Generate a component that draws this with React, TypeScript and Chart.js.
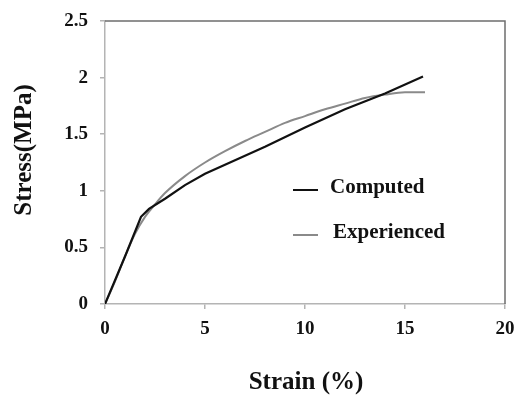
import React, { useEffect, useRef } from "react";
import { Chart, registerables } from "chart.js";

Chart.register(...registerables);

const computedStrain = [0, 1, 1.8, 2.2, 3, 4, 5, 6, 8, 10, 12, 14, 15.9];
const computedStress = [0, 0.42, 0.77, 0.84, 0.93, 1.05, 1.15, 1.23, 1.39, 1.56, 1.72, 1.86, 2.01];

const experiencedStrain = [0, 0.5, 1, 1.5, 2, 2.5, 3, 4, 5, 6, 7, 8, 9, 10, 11, 12, 13, 14, 15, 16];
const experiencedStress = [0, 0.2, 0.42, 0.62, 0.77, 0.88, 0.98, 1.13, 1.25, 1.35, 1.44, 1.52, 1.6, 1.66, 1.72, 1.77, 1.82, 1.85, 1.87, 1.87];

const xTicks = [0, 5, 10, 15, 20];
const yTicks = [0, 0.5, 1, 1.5, 2, 2.5];
const yTickLabels = ["0", "0.5", "1", "1.5", "2", "2.5"];

const seriesLabels = ["Computed", "Experienced"];
const xTitle = "Strain (%)";
const yTitle = "Stress(MPa)";

const FONT = "'Liberation Serif', 'Times New Roman', serif";

const overlayPlugin = {
  id: "overlay",
  afterDraw(chart: any) {
    const ctx = chart.ctx as CanvasRenderingContext2D;
    const { left, right, top, bottom } = chart.chartArea;
    ctx.save();
    ctx.strokeStyle = "#6e6e6e";
    ctx.lineWidth = 1.5;
    ctx.beginPath();
    ctx.moveTo(left, top);
    ctx.lineTo(right, top);
    ctx.lineTo(right, bottom);
    ctx.stroke();

    ctx.fillStyle = "#111";
    ctx.font = `bold 25px ${FONT}`;
    ctx.textAlign = "center";
    ctx.textBaseline = "middle";
    ctx.fillText(xTitle, 306, 383);
    ctx.save();
    ctx.translate(25, 150);
    ctx.rotate(-Math.PI / 2);
    ctx.fillText(yTitle, 0, 0);
    ctx.restore();

    const items = chart.data.datasets.map((d: any, i: number) => ({
      label: d.label,
      color: d.borderColor,
      y: i === 0 ? 188 : 233,
      tx: i === 0 ? 330 : 333,
    }));
    ctx.font = `bold 21px ${FONT}`;
    ctx.textAlign = "left";
    items.forEach((it: any) => {
      ctx.strokeStyle = it.color;
      ctx.lineWidth = 2;
      ctx.beginPath();
      ctx.moveTo(293, it.y + 2);
      ctx.lineTo(318, it.y + 2);
      ctx.stroke();
      ctx.fillStyle = "#111";
      ctx.fillText(it.label, it.tx, it.y);
    });
    ctx.restore();
  },
};

export default function App() {
  const ref = useRef<HTMLCanvasElement>(null);
  useEffect(() => {
    if (!ref.current) return;
    const chart = new Chart(ref.current, {
      type: "line",
      data: {
        datasets: [
          {
            label: seriesLabels[0],
            data: computedStrain.map((x, i) => ({ x, y: computedStress[i] })),
            borderColor: "#111111",
            borderWidth: 2.2,
            pointRadius: 0,
            tension: 0,
            fill: false,
          },
          {
            label: seriesLabels[1],
            data: experiencedStrain.map((x, i) => ({ x, y: experiencedStress[i] })),
            borderColor: "#8a8a8a",
            borderWidth: 2,
            pointRadius: 0,
            cubicInterpolationMode: "monotone",
            fill: false,
          },
        ],
      },
      options: {
        animation: false,
        responsive: false,
        maintainAspectRatio: false,
        layout: { padding: { top: 21, right: 10, left: 0, bottom: 0 } },
        plugins: { legend: { display: false }, tooltip: { enabled: false } },
        scales: {
          x: {
            type: "linear",
            min: 0,
            max: 20,
            afterBuildTicks: (axis: any) => {
              axis.ticks = xTicks.map((v) => ({ value: v }));
            },
            afterFit: (axis: any) => {
              axis.height = 92;
              axis.paddingLeft = 0;
              axis.paddingRight = 0;
            },
            grid: { drawOnChartArea: false, drawTicks: true, tickLength: 5, color: "#b4b4b4", lineWidth: 1.5 },
            border: { color: "#b4b4b4", width: 1.5 },
            ticks: { color: "#111", padding: 9, font: { family: FONT, size: 19, weight: "bold" }, maxRotation: 0 },
          },
          y: {
            type: "linear",
            min: 0,
            max: 2.5,
            afterBuildTicks: (axis: any) => {
              axis.ticks = yTicks.map((v) => ({ value: v }));
            },
            afterFit: (axis: any) => {
              axis.width = 105;
              axis.paddingTop = 0;
              axis.paddingBottom = 0;
            },
            grid: { drawOnChartArea: false, drawTicks: true, tickLength: 5, color: "#b4b4b4", lineWidth: 1.5 },
            border: { color: "#b4b4b4", width: 1.5 },
            ticks: {
              color: "#111",
              padding: 12,
              font: { family: FONT, size: 19, weight: "bold" },
              callback: (v: any) => {
                const i = yTicks.indexOf(Number(v));
                return i >= 0 ? yTickLabels[i] : "";
              },
            },
          },
        },
      },
      plugins: [overlayPlugin],
    } as any);
    return () => chart.destroy();
  }, []);
  return (
    <div style={{ position: "fixed", left: 0, top: 0, width: 515, height: 396, background: "#fff" }}>
      <canvas ref={ref} width={515} height={396} style={{ width: 515, height: 396 }} />
    </div>
  );
}
